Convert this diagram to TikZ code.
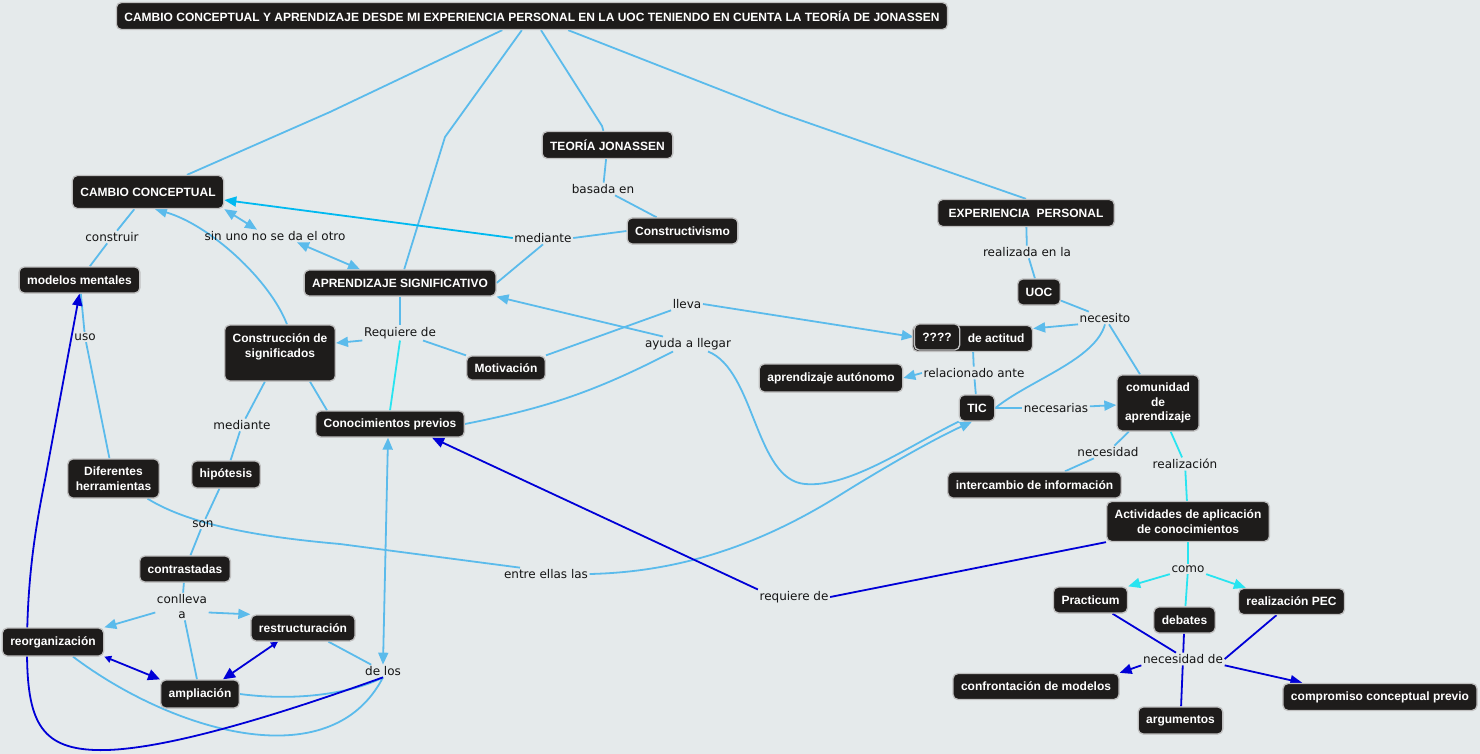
\documentclass[tikz,border=0pt]{standalone}
\usepackage{fontspec}
\setmainfont{DejaVu Sans}
\newfontfamily\boxfont{Liberation Sans}
\usetikzlibrary{arrows.meta}

\definecolor{bgc}{RGB}{229,234,235}
\definecolor{boxc}{RGB}{30,28,27}
\definecolor{edgec}{RGB}{192,192,192}
\definecolor{lblc}{RGB}{20,20,20}
\definecolor{lblue}{RGB}{91,187,235}
\definecolor{cyanl}{RGB}{40,228,240}
\definecolor{medc}{RGB}{0,185,240}
\definecolor{dblue}{RGB}{0,0,215}

\pgfdeclarelayer{back}
\pgfsetlayers{back,main}

\begin{document}
\begin{tikzpicture}[x=1pt,y=-1pt,
    concept/.style={fill=boxc,draw=edgec,line width=1.3pt,rounded corners=5pt,text=white,
      font=\boxfont\bfseries\fontsize{12}{14.5}\selectfont,inner xsep=8pt,inner ysep=3pt,
      minimum height=26pt,align=center},
    lbl/.style={font=\fontsize{12}{15}\selectfont,text=lblc,inner sep=1.5pt,align=center},
    lnk/.style={draw=lblue,line width=1.8pt,line join=round},
    clnk/.style={draw=cyanl,line width=1.8pt,line join=round},
    mlnk/.style={draw=medc,line width=1.8pt},
    blnk/.style={draw=dblue,line width=1.8pt,line join=round},
    >={Triangle[length=12pt,width=10pt]}]
  \begin{pgfonlayer}{back}
    \fill[bgc] (0,0) rectangle (1480,754);
  \end{pgfonlayer}
  \useasboundingbox (0,0) rectangle (1480,754);

  % concepts
  \node[concept,minimum height=27pt] (title) at (532,16) {CAMBIO CONCEPTUAL Y APRENDIZAJE DESDE MI EXPERIENCIA PERSONAL EN LA UOC TENIENDO EN CUENTA LA TEORÍA DE JONASSEN};
  \node[concept,minimum height=33pt] (cc) at (148,192) {CAMBIO CONCEPTUAL};
  \node[concept,minimum height=27pt] (tj) at (607.5,145) {TEORÍA JONASSEN};
  \node[concept] (cons) at (682.5,231) {Constructivismo};
  \node[concept,minimum height=27pt,inner xsep=11pt] (exper) at (1026,213) {EXPERIENCIA\ \ PERSONAL};
  \node[concept] (uoc) at (1039,292) {UOC};
  \node[concept] (actitud) at (972.5,338.5) {\phantom{Cambio} de actitud};
  \node[concept] (preg) at (937,337) {????};
  \node[concept,minimum height=28pt] (autonomo) at (831,378) {aprendizaje autónomo};
  \node[concept] (tic) at (977,408) {TIC};
  \node[concept,minimum height=56pt] (comunidad) at (1158,403) {comunidad\\de\\aprendizaje};
  \node[concept] (intercambio) at (1034.5,485) {intercambio de información};
  \node[concept,minimum height=40pt] (activ) at (1188,521.5) {Actividades de aplicación\\de conocimientos};
  \node[concept] (practicum) at (1090.5,600) {Practicum};
  \node[concept] (debates) at (1184.5,620) {debates};
  \node[concept] (pec) at (1291.5,601.5) {realización PEC};
  \node[concept] (confront) at (1036,686.5) {confrontación de modelos};
  \node[concept,minimum height=27pt] (argum) at (1180.5,720.5) {argumentos};
  \node[concept,minimum height=27pt] (compromiso) at (1380,697) {compromiso conceptual previo};
  \node[concept] (mm) at (79.5,280) {modelos mentales};
  \node[concept] (asig) at (400,283) {APRENDIZAJE SIGNIFICATIVO};
  \node[concept,minimum height=56pt] (cds) at (280,353) {Construcción de\\significados\\\mbox{}};
  \node[concept,minimum height=24pt] (motiv) at (506,368) {Motivación};
  \node[concept] (cprev) at (390,424) {Conocimientos previos};
  \node[concept,minimum height=39pt] (difh) at (113.5,478.5) {Diferentes\\herramientas};
  \node[concept,minimum height=27pt] (hipo) at (226,474.5) {hipótesis};
  \node[concept] (contr) at (185,569) {contrastadas};
  \node[concept] (restr) at (303,628) {restructuración};
  \node[concept,minimum height=28pt] (reorg) at (53,642) {reorganización};
  \node[concept,minimum height=28pt] (ampl) at (200,694) {ampliación};

  % linking phrases
  \node[lbl] (lconstruir) at (112,237) {construir};
  \node[lbl] (lsinuno) at (275,236) {sin uno no se da el otro};
  \node[lbl] (lmedA) at (543,238) {mediante};
  \node[lbl] (lbasada) at (603,189) {basada en};
  \node[lbl] (lrequiere) at (400,333) {Requiere de};
  \node[lbl] (llleva) at (687,304) {lleva};
  \node[lbl] (layuda) at (688,344) {ayuda a llegar};
  \node[lbl] (luso) at (85,337) {uso};
  \node[lbl] (lmedB) at (242,425) {mediante};
  \node[lbl] (lson) at (203,524) {son};
  \node[lbl] (lconlleva) at (182,606.5) {conlleva\\a};
  \node[lbl] (ldelos) at (383,671) {de los};
  \node[lbl] (lentre) at (546,574) {entre ellas las};
  \node[lbl] (lreqde) at (794,597) {requiere de};
  \node[lbl] (lrealizada) at (1027,252) {realizada en la};
  \node[lbl] (lnecesito) at (1105,318) {necesito};
  \node[lbl] (lrelac) at (974,373) {relacionado ante};
  \node[lbl] (lnecesarias) at (1056,408) {necesarias};
  \node[lbl] (lnecesidad) at (1108,452) {necesidad};
  \node[lbl] (lrealiz) at (1185,464) {realización};
  \node[lbl] (lcomo) at (1188,569) {como};
  \node[lbl] (lnecde) at (1183,659) {necesidad de};

  \coordinate (e1) at (330,112);
  \coordinate (e2) at (445,137);
  \coordinate (e3) at (602,126);
  \coordinate (e4) at (780,113);

  \begin{pgfonlayer}{back}
    % title links
    \draw[lnk] (title) -- (e1) -- (cc);
    \draw[lnk] (title) -- (e2) -- (asig);
    \draw[lnk] (title) -- (e3) -- (tj);
    \draw[lnk] (title) -- (e4) -- (exper.north);
    % cambio conceptual
    \draw[lnk] (cc) -- (lconstruir) -- (mm);
    \draw[lnk,<->] (cc.south east) -- ([xshift=-18pt]lsinuno.north);
    \draw[lnk,<->] ([xshift=22pt]lsinuno.south) -- ([xshift=-40pt]asig.north);
    \draw[mlnk,->] (lmedA.west) -- ([yshift=-8pt]cc.east);
    \draw[lnk] (cons.west) -- (lmedA.east);
    \draw[lnk] (lmedA.south) -- (asig.east);
    \draw[lnk,->] ([xshift=7pt]cds.north) .. controls (270,280) and (210,225) .. ([xshift=7pt]cc.south);
    \draw[lnk] (tj) -- (lbasada) -- (cons);
    % aprendizaje significativo
    \draw[lnk] (asig) -- (lrequiere);
    \draw[lnk,->] (lrequiere.south west) -- ([yshift=10pt]cds.east);
    \draw[lnk] ([xshift=23pt]lrequiere.south) -- (motiv.north west);
    \draw[clnk] (lrequiere.south) -- (cprev.north);
    \draw[lnk] (motiv.north east) -- (llleva.south west);
    \draw[lnk,->] (llleva.east) -- (preg.west);
    \draw[lnk] (cprev.east) to[bend right=8] ([xshift=-15pt]layuda.south);
    \draw[lnk,->] ([xshift=-25pt]layuda.north) -- (asig.south east);
    \draw[lnk] ([xshift=20pt]layuda.south) .. controls (755,370) and (755,480) .. (805,484)
      .. controls (850,488) and (910,445) .. (tic.south west);
    % herramientas
    \draw[lnk] (mm) -- (luso) -- (difh);
    \draw[lnk] ([xshift=34pt]difh.south) .. controls (190,525) and (260,537) .. (340,544) -- ([xshift=-26pt]lentre.north);
    \draw[lnk,->] (lentre.east) .. controls (680,572) and (760,545) .. (840,495)
      .. controls (880,470) and (930,441) .. ([xshift=-5pt]tic.south);
    % significados
    \draw[lnk] (cds) -- (lmedB) -- (hipo);
    \draw[lnk] (hipo) -- (lson) -- (contr);
    \draw[lnk] ([xshift=30pt]cds.south) -- ([xshift=-63pt]cprev.north);
    \draw[lnk] (contr) -- (lconlleva) -- (ampl);
    \draw[lnk,->] ([yshift=-6pt]lconlleva.west) -- (reorg.north east);
    \draw[lnk,->] ([yshift=-6pt]lconlleva.east) -- (restr.north west);
    \draw[blnk,{Triangle[length=7pt,width=7pt]}-{Triangle[length=12pt,width=11pt]}] (reorg.south east) -- (ampl.north west);
    \draw[blnk,{Triangle[length=7pt,width=7pt]}-{Triangle[length=12pt,width=11pt]}] ([xshift=-25pt]restr.south) -- ([xshift=23pt]ampl.north);
    % de los
    \draw[lnk,<->] ([xshift=-2pt]cprev.south) -- (ldelos.north);
    \draw[lnk] (restr) -- (ldelos);
    \draw[lnk] ([xshift=20pt]reorg.south) .. controls (170,730) and (330,780) .. (ldelos.south);
    \draw[lnk] (ampl.east) .. controls (300,702) and (355,692) .. (ldelos.south);
    \draw[blnk,->] (ldelos.south) .. controls (250,725) and (150,752) .. (95,750)
      .. controls (40,748) and (27,720) .. (27,650) .. controls (27,580) and (35,530) .. (45,480) -- (mm.south);
    % experiencia personal
    \draw[lnk] (exper) -- (lrealizada) -- (uoc);
    \draw[lnk] (uoc) -- (lnecesito);
    \draw[lnk,->] (lnecesito.south west) -- ([yshift=10pt]actitud.east);
    \draw[lnk] ([xshift=4pt]lnecesito.south) -- ([xshift=-18pt]comunidad.north);
    \draw[lnk] (lnecesito.south) .. controls (1095,360) and (1030,380) .. (tic.east);
    \draw[lnk] (actitud) -- (lrelac) -- (tic);
    \draw[lnk,->] (lrelac.west) -- (autonomo.east);
    \draw[lnk] (tic) -- (lnecesarias);
    \draw[lnk,->] (lnecesarias) -- (comunidad);
    \draw[lnk] (comunidad) -- (lnecesidad) -- (intercambio);
    \draw[clnk] (comunidad) -- (lrealiz) -- (activ);
    % actividades
    \draw[clnk] (activ) -- (lcomo);
    \draw[clnk,->] (lcomo.south west) -- (practicum.north east);
    \draw[clnk,->] (lcomo.south east) -- ([xshift=8pt]pec.north west);
    \draw[clnk] (lcomo) -- (debates);
    \draw[blnk] ([xshift=22pt]practicum.south) -- ([xshift=-7pt]lnecde.north);
    \draw[blnk] (debates) -- (lnecde);
    \draw[blnk] ([xshift=-15pt]pec.south) -- (lnecde.east);
    \draw[blnk,->] (lnecde.south west) -- (confront.north east);
    \draw[blnk] (lnecde) -- (argum);
    \draw[blnk,->] (lnecde.south east) -- ([xshift=20pt]compromiso.north west);
    \draw[blnk] (activ.south west) -- (lreqde.east);
    \draw[blnk,->] (lreqde.north west) -- ([xshift=42pt]cprev.south);
  \end{pgfonlayer}
\end{tikzpicture}
\end{document}
